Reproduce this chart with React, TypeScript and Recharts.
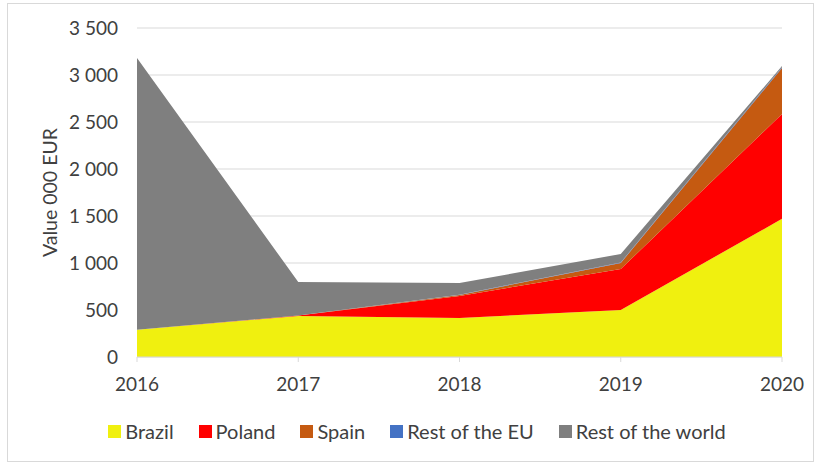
import React from 'react';
import { AreaChart, Area, XAxis, YAxis, CartesianGrid, Legend } from 'recharts';

const years = ['2016', '2017', '2018', '2019', '2020'];
const brazil = [290, 436, 415, 500, 1470];
const poland = [0, 5, 235, 436, 1115];
const spain = [0, 0, 10, 64, 490];
const restEu = [0, 0, 3, 5, 8];
const restWorld = [2890, 357, 124, 90, 12];
const yTicks = [0, 500, 1000, 1500, 2000, 2500, 3000, 3500];

const series = [
  { key: 'brazil', name: 'Brazil', color: '#F0F00F' },
  { key: 'poland', name: 'Poland', color: '#FF0000' },
  { key: 'spain', name: 'Spain', color: '#C55A11' },
  { key: 'restEu', name: 'Rest of the EU', color: '#4472C4' },
  { key: 'restWorld', name: 'Rest of the world', color: '#7F7F7F' },
];

const data = years.map((year, i) => ({
  year,
  brazil: brazil[i],
  poland: poland[i],
  spain: spain[i],
  restEu: restEu[i],
  restWorld: restWorld[i],
}));

const font = 'Lato, "Liberation Sans", sans-serif';
const textColor = '#404040';

const fmt = (v: number) => v.toLocaleString('en-US').replace(/,/g, ' ');

function LegendContent() {
  return (
    <div style={{ display: 'flex', justifyContent: 'center', height: 24, alignItems: 'center', fontFamily: font, fontSize: 20, color: textColor, paddingLeft: 14 }}>
      {series.map((s, i) => (
        <div key={s.key} style={{ display: 'flex', alignItems: 'center', marginRight: i === series.length - 1 ? 0 : 25 }}>
          <span style={{ width: 13, height: 13, background: s.color, display: 'inline-block', marginRight: 4 }} />
          <span>{s.name}</span>
        </div>
      ))}
    </div>
  );
}

export default function App() {
  return (
    <div style={{ position: 'absolute', left: 7, top: 3, width: 805, height: 457, border: '1px solid #d9d9d9', background: '#fff' }}>
      <AreaChart width={805} height={457} data={data} margin={{ top: 24, right: 31, left: 30, bottom: 18 }}>
        <CartesianGrid vertical={false} stroke="#d9d9d9" />
        <XAxis
          dataKey="year"
          axisLine={{ stroke: '#d9d9d9' }}
          tickLine={{ stroke: '#d9d9d9' }}
          tickSize={5}
          tickMargin={16}
          height={62}
          tick={{ fill: textColor, fontSize: 19, fontFamily: font }}
        />
        <YAxis
          width={99}
          domain={[0, 3500]}
          ticks={yTicks}
          axisLine={false}
          tickLine={false}
          tickSize={0}
          tickMargin={19}
          tickFormatter={fmt}
          tick={{ fill: textColor, fontSize: 19, fontFamily: font }}
          label={{ value: 'Value 000 EUR', angle: -90, position: 'insideLeft', offset: 12, style: { textAnchor: 'middle', fill: textColor, fontSize: 19.5, fontFamily: font } }}
        />
        <Legend verticalAlign="bottom" content={<LegendContent />} />
        {series.map((s) => (
          <Area
            key={s.key}
            type="linear"
            dataKey={s.key}
            name={s.name}
            stackId="1"
            stroke="none"
            fill={s.color}
            fillOpacity={1}
            isAnimationActive={false}
          />
        ))}
      </AreaChart>
    </div>
  );
}
